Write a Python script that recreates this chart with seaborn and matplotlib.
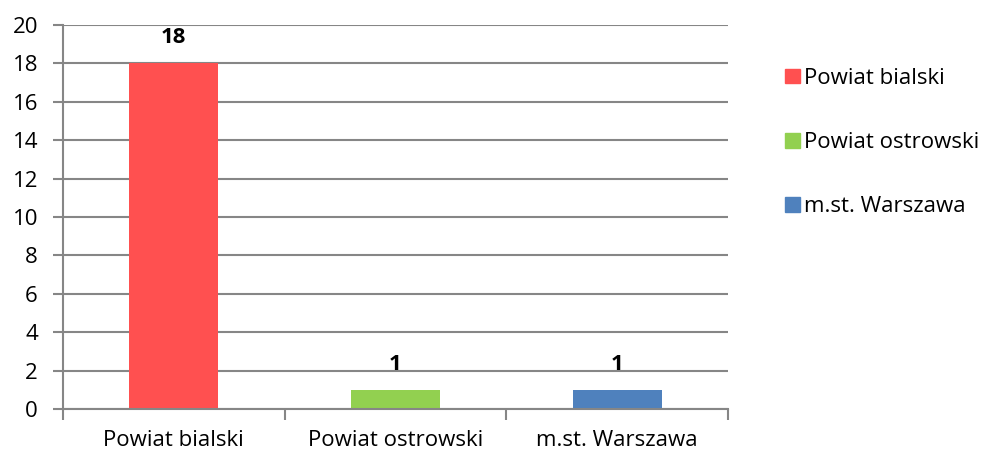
import matplotlib
matplotlib.use("Agg")
import matplotlib.pyplot as plt
import seaborn as sns
import pandas as pd
import numpy as np

# dane
categories = ["Powiat bialski", "Powiat ostrowski", "m.st. Warszawa"]
values = [18, 1, 1]
colors = ["#FF5050", "#92D050", "#4F81BD"]

sns.set_style("white")
plt.rcParams['font.family'] = ['Open Sans', 'DejaVu Sans']
plt.rcParams['text.color'] = 'black'
plt.rcParams['xtick.color'] = 'black'
plt.rcParams['ytick.color'] = 'black'

df = pd.DataFrame({"kat": categories, "val": values})

fig = plt.figure(figsize=(9.81, 4.55), dpi=100)
ax = fig.add_axes([0.0642, 0.101, 0.678, 0.844])

sns.barplot(data=df, x="kat", y="val", hue="kat", palette=colors,
            width=0.4, dodge=False, legend=False, ax=ax, saturation=1,
            linewidth=0)

grid_c = "#868686"
fs = 16
ax.set_ylim(0, 20)
ax.set_xlim(-0.5, 2.5)
ax.set_yticks(np.arange(0, 21, 2))
ax.yaxis.grid(True, color=grid_c, linewidth=1.5)
ax.set_axisbelow(True)
for s in ["top", "right"]:
    ax.spines[s].set_visible(False)
for s in ["left", "bottom"]:
    ax.spines[s].set_color(grid_c)
    ax.spines[s].set_linewidth(1.5)

ax.tick_params(axis="y", length=7, width=1.5, color=grid_c, labelsize=fs, pad=11, left=True)
ax.tick_params(axis="x", which="major", length=0, labelsize=fs, pad=15)
ax.set_xticks([-0.5, 0.5, 1.5, 2.5], minor=True)
ax.tick_params(axis="x", which="minor", length=8, width=1.5, color=grid_c, bottom=True)
ax.set_xlabel("")
ax.set_ylabel("")

for c in ax.containers:
    ax.bar_label(c, fmt="%d", padding=11, fontsize=fs, fontweight="bold")

handles = [plt.Rectangle((0, 0), 1, 1, color=col) for col in colors]
fig.legend(handles, categories, loc="upper left", bbox_to_anchor=(0.780, 0.895),
           frameon=False, fontsize=fs, handlelength=0.65, handleheight=0.65,
           handletextpad=0.2, labelspacing=1.95)

fig.savefig("out.png", dpi=100)
plt.close()
